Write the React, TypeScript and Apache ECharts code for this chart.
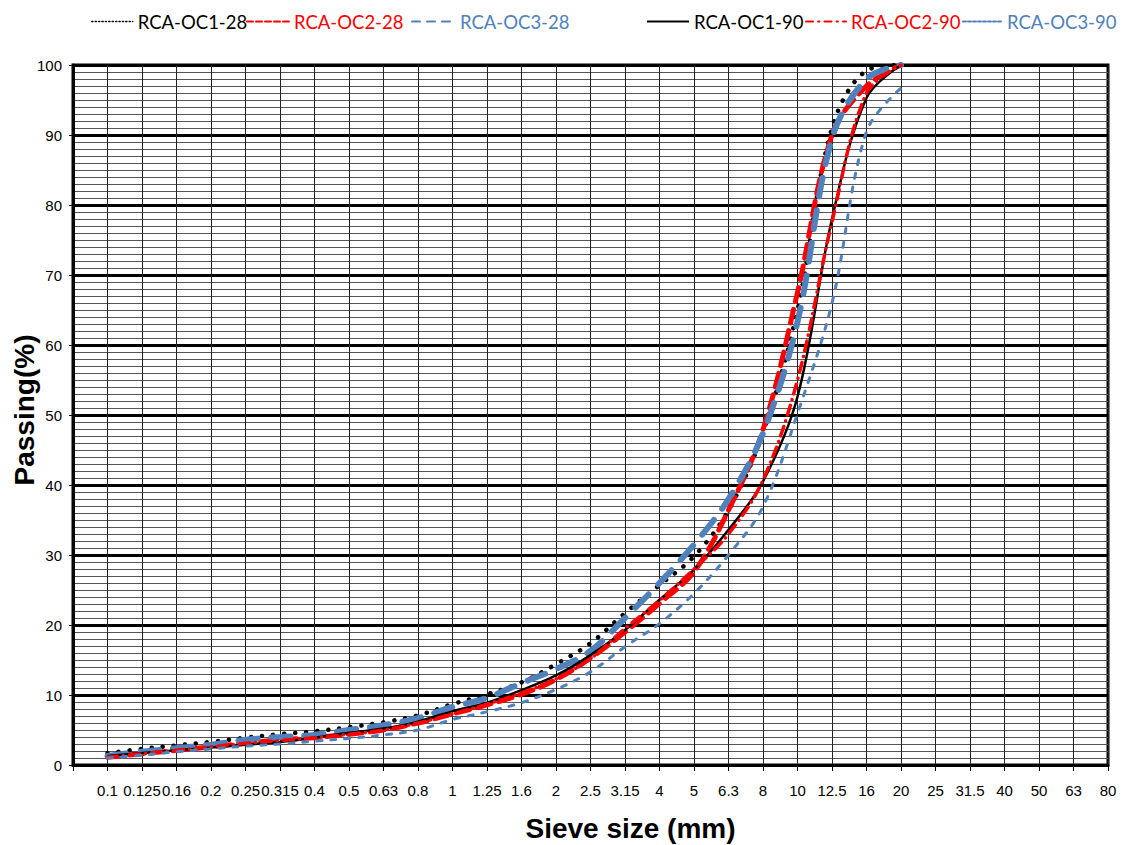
import React, { useEffect, useRef } from "react";
import * as echarts from "echarts";

// Sieve sizes (mm) shown along the x axis, one per unit step
const sieveLabels = ["0.1", "0.125", "0.16", "0.2", "0.25", "0.315", "0.4", "0.5", "0.63", "0.8", "1", "1.25", "1.6", "2", "2.5", "3.15", "4", "5", "6.3", "8", "10", "12.5", "16", "20", "25", "31.5", "40", "50", "63", "80"];

// Passing (%) at sieves 0.1 ... 20 mm
const oc1_28 = [1.7, 2.3, 2.8, 3.3, 3.9, 4.4, 4.8, 5.4, 6.1, 7.1, 8.7, 10.1, 11.8, 14.4, 17.4, 21.7, 25.7, 29.8, 36.4, 47.5, 65, 91, 99.2, 100];
const oc2_28 = [1.1, 1.6, 2.1, 2.6, 3.1, 3.6, 3.9, 4.4, 5.0, 6.0, 7.3, 8.6, 10.1, 12.2, 15.3, 19, 23.1, 27.6, 36.4, 47.9, 67.5, 90, 97, 100];
const oc3_28 = [1.3, 1.9, 2.4, 2.9, 3.6, 4.0, 4.3, 5.0, 5.7, 6.7, 8.3, 9.6, 11.7, 13.7, 16.3, 21, 26, 31.5, 38, 47.4, 63.3, 89.5, 98, 100];
const oc1_90 = [1.3, 1.7, 2.1, 2.5, 2.9, 3.3, 3.9, 4.6, 5.2, 6.2, 7.7, 8.9, 10.7, 12.8, 15.7, 19.3, 23.6, 27.9, 33.6, 40.5, 52.6, 78, 95.3, 100];
const oc2_90 = [1.1, 1.6, 2.1, 2.6, 3.1, 3.5, 3.9, 4.4, 5.0, 6.0, 7.3, 8.7, 10.3, 12.3, 15.2, 19.5, 23.5, 28, 33, 40.7, 55, 77.6, 96, 100];
const oc3_90 = [1.0, 1.4, 1.9, 2.3, 2.7, 3.0, 3.4, 3.8, 4.3, 5.0, 6.5, 7.6, 8.9, 10.8, 13.3, 16.9, 20.2, 24.5, 30, 36.9, 50.2, 66, 90.5, 96.7];

const seriesNames = ["RCA-OC1-28", "RCA-OC2-28", "RCA-OC3-28", "RCA-OC1-90", "RCA-OC2-90", "RCA-OC3-90"];
const seriesValues = [oc1_28, oc2_28, oc3_28, oc1_90, oc2_90, oc3_90];

const RED = "#FF0000";
const BLUE = "#4F81BD";
const BLACK = "#000000";
const colors = [BLACK, RED, BLUE, BLACK, RED, BLUE];

const plotLineStyles: any[] = [
  { width: 4.5, type: [0.1, 11], cap: "round" },
  { width: 5, type: [14, 8], cap: "round" },
  { width: 6, type: [19, 14], cap: "round" },
  { width: 2.5, type: "solid" },
  { width: 3.5, type: [10, 6, 0.1, 6], cap: "round" },
  { width: 3, type: [5, 9], cap: "round" },
];
const legendLineStyles: any[] = [
  { width: 1.5, type: [1.2, 2.2] },
  { width: 2, type: [6, 3] },
  { width: 2, type: [8, 7] },
  { width: 2, type: "solid" },
  { width: 2, type: [7, 5, 1.5, 5] },
  { width: 2, type: [3, 2] },
];
const legendLefts = [91, 246, 411, 646, 805, 962];
const legendWidths = [41, 42, 43, 42, 40, 39];

export default function App() {
  const ref = useRef<HTMLDivElement>(null);
  useEffect(() => {
    if (!ref.current) return;
    const chart = echarts.init(ref.current, null, { renderer: "svg" });
    const axisFont = "Liberation Sans, Arial, sans-serif";
    const option: any = {
      animation: false,
      backgroundColor: "#ffffff",
      legend: seriesNames.map((name, i) => ({
        left: legendLefts[i],
        top: 12,
        itemWidth: legendWidths[i],
        itemHeight: 12,
        padding: 0,
        selectedMode: false,
        textStyle: { fontFamily: "Lato, Open Sans, sans-serif", fontSize: 18.5, color: colors[i] },
        data: [{
          name,
          lineStyle: { color: colors[i], ...legendLineStyles[i] },
          itemStyle: { opacity: 0 },
          textStyle: { color: colors[i] },
        }],
      })),
      grid: {
        left: 73,
        right: 17,
        top: 65,
        bottom: 80,
        show: true,
        borderColor: BLACK,
        borderWidth: 3,
        containLabel: false,
        outerBoundsMode: "none",
      },
      xAxis: {
        type: "value",
        min: 0,
        max: sieveLabels.length,
        interval: 1,
        name: "Sieve size (mm)",
        nameLocation: "middle",
        nameGap: 49,
        nameMoveOverlap: false,
        nameTextStyle: { fontFamily: axisFont, fontSize: 28, fontWeight: "bold", color: BLACK, padding: [0, 0, 0, 80] },
        axisLine: { show: true, lineStyle: { color: BLACK, width: 3 } },
        axisTick: { show: true, length: 6, lineStyle: { color: BLACK, width: 1 } },
        axisLabel: {
          margin: 18,
          fontFamily: axisFont,
          fontSize: 15,
          color: BLACK,
          formatter: (v: number) => (v >= 1 && v <= sieveLabels.length ? sieveLabels[v - 1] : ""),
        },
        splitLine: { show: true, lineStyle: { color: "#222", width: 1 } },
      },
      yAxis: {
        type: "value",
        min: 0,
        max: 100,
        interval: 10,
        name: "Passing(%)",
        nameLocation: "middle",
        nameGap: 35,
        nameMoveOverlap: false,
        nameTextStyle: { fontFamily: axisFont, fontSize: 28, fontWeight: "bold", color: BLACK, padding: [0, 0, 0, 10] },
        axisLine: { show: true, lineStyle: { color: BLACK, width: 3 } },
        axisTick: { show: true, length: 4, lineStyle: { color: BLACK, width: 1 } },
        axisLabel: { margin: 11, fontFamily: axisFont, fontSize: 15, color: BLACK },
        splitLine: { show: true, lineStyle: { color: BLACK, width: 3 } },
        minorTick: { show: false, splitNumber: 10 },
        minorSplitLine: { show: true, lineStyle: { color: "#555", width: 1 } },
      },
      series: seriesNames.map((name, i) => ({
        name,
        type: "line",
        symbol: "none",
        smooth: 0.35,
        color: colors[i],
        lineStyle: { color: colors[i], ...plotLineStyles[i] },
        data: seriesValues[i].map((v, k) => [k + 1, v]),
        z: 3 + i,
      })),
    };
    chart.setOption(option);
    return () => chart.dispose();
  }, []);
  return <div ref={ref} style={{ position: "fixed", left: 0, top: 0, width: 1125, height: 845 }} />;
}
